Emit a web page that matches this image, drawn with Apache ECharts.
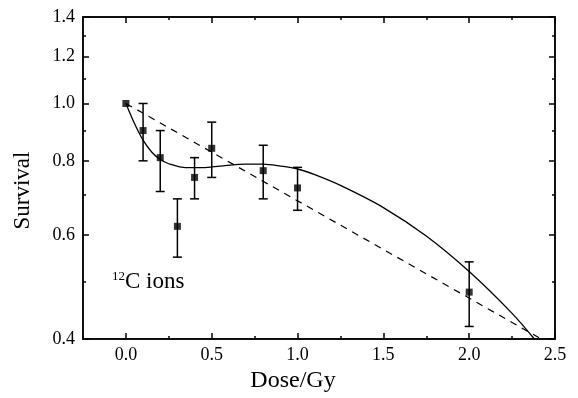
<!DOCTYPE html>
<html>
<head>
<meta charset="utf-8">
<script src="https://cdn.jsdelivr.net/npm/echarts@6/dist/echarts.min.js"></script>
<style>
  html, body { margin: 0; padding: 0; background: #fff; }
  #chart { width: 578px; height: 398px; }
</style>
</head>
<body>
<div id="chart"></div>
<script>
// measured points
const doses = [0, 0.1, 0.2, 0.3, 0.4, 0.5, 0.8, 1.0, 2.0];
const survival = [1.0, 0.90, 0.81, 0.62, 0.75, 0.84, 0.77, 0.72, 0.48];
const errLow = [null, 0.80, 0.71, 0.55, 0.69, 0.75, 0.69, 0.66, 0.42];
const errHigh = [null, 1.0, 0.90, 0.69, 0.81, 0.93, 0.85, 0.78, 0.54];

// fitted curve (solid)
const fitDose = [0, 0.05, 0.1, 0.15, 0.2, 0.25, 0.35, 0.45, 0.55, 0.7, 0.8, 0.9, 1.0, 1.1, 1.25, 1.5, 1.75, 2.0, 2.25, 2.38];
const fitSurv = [1.0, 0.925, 0.867, 0.828, 0.804, 0.791, 0.779, 0.779, 0.784, 0.79, 0.79, 0.784, 0.775, 0.758, 0.727, 0.667, 0.597, 0.52, 0.442, 0.40];

// exponential line (dashed)
const expDose = [0, 2.42];
const expSurv = [1.0, 0.40];

const yLabels = [0.4, 0.6, 0.8, 1.0, 1.2, 1.4];
const yMinor = [0.5, 0.7, 0.9, 1.1, 1.3];
const xLabels = [0, 0.5, 1.0, 1.5, 2.0, 2.5];
const xMinor = [0.25, 0.75, 1.25, 1.75, 2.25];

const font = 'Liberation Serif, Times New Roman, serif';

const chart = echarts.init(document.getElementById('chart'));

const axisLine = { show: true, onZero: false, lineStyle: { color: '#000', width: 1.5 } };
const tickStyle = { color: '#000', width: 1.5 };

function xAxisOf(pos, ticks, len, extra) {
  return Object.assign({
    type: 'value', min: -0.25, max: 2.5, position: pos,
    axisLine: axisLine,
    axisTick: { show: true, inside: true, length: len, customValues: ticks, lineStyle: tickStyle },
    axisLabel: { show: false },
    splitLine: { show: false }
  }, extra || {});
}
function yAxisOf(pos, ticks, len, extra) {
  return Object.assign({
    type: 'log', logBase: 10, min: 0.4, max: 1.4, position: pos,
    axisLine: axisLine,
    axisTick: { show: true, inside: true, length: len, customValues: ticks, lineStyle: tickStyle },
    axisLabel: { show: false },
    splitLine: { show: false },
    minorTick: { show: false }
  }, extra || {});
}

const option = {
  animation: false,
  backgroundColor: '#fff',
  grid: { left: 83, right: 23, top: 17, bottom: 58 },
  xAxis: [
    xAxisOf('bottom', xLabels, 6, {
      name: 'Dose/Gy',
      nameLocation: 'middle',
      nameGap: 30,
      nameTextStyle: { fontFamily: font, fontSize: 24, color: '#000', padding: [0, 52, 0, 0] },
      axisLabel: {
        show: true, customValues: xLabels,
        fontFamily: font, fontSize: 18, color: '#000', margin: 7,
        formatter: v => v.toFixed(1)
      }
    }),
    xAxisOf('bottom', xMinor, 3),
    xAxisOf('top', xLabels, 6),
    xAxisOf('top', xMinor, 3)
  ],
  yAxis: [
    yAxisOf('left', yLabels, 6, {
      name: 'Survival',
      nameLocation: 'middle',
      nameGap: 49,
      nameTextStyle: { fontFamily: font, fontSize: 23, color: '#000', padding: [0, 25, 0, 0] },
      axisLabel: {
        show: true, customValues: yLabels,
        fontFamily: font, fontSize: 18, color: '#000', margin: 8,
        formatter: v => Number(v).toFixed(1)
      }
    }),
    yAxisOf('left', yMinor, 3),
    yAxisOf('right', yLabels, 6),
    yAxisOf('right', yMinor, 3)
  ],
  graphic: [{
    type: 'text',
    left: 112,
    top: 270,
    style: {
      text: '{sup|12}{n|C ions}',
      rich: {
        sup: { fontFamily: font, fontSize: 13, fill: '#000', verticalAlign: 'top', padding: [0, 0, 9, 0] },
        n: { fontFamily: font, fontSize: 23, fill: '#000' }
      }
    }
  }],
  series: [
    {
      type: 'line',
      data: expDose.map((d, i) => [d, expSurv[i]]),
      symbol: 'none',
      lineStyle: { color: '#000', width: 1.2, type: [7, 6] },
      z: 2
    },
    {
      type: 'line',
      data: fitDose.map((d, i) => [d, fitSurv[i]]),
      symbol: 'none',
      smooth: 0.3,
      lineStyle: { color: '#000', width: 1.3 },
      z: 2
    },
    {
      type: 'custom',
      data: doses.map((d, i) => [d, errLow[i], errHigh[i]]).filter(r => r[1] != null),
      encode: { x: 0, y: [1, 2] },
      renderItem: function (params, api) {
        const x = api.value(0);
        const top = api.coord([x, api.value(2)]);
        const bot = api.coord([x, api.value(1)]);
        const w = 4.5;
        const st = { stroke: '#000', lineWidth: 1.5 };
        return {
          type: 'group',
          children: [
            { type: 'line', shape: { x1: top[0], y1: top[1], x2: bot[0], y2: bot[1] }, style: st },
            { type: 'line', shape: { x1: top[0] - w, y1: top[1], x2: top[0] + w, y2: top[1] }, style: st },
            { type: 'line', shape: { x1: bot[0] - w, y1: bot[1], x2: bot[0] + w, y2: bot[1] }, style: st }
          ]
        };
      },
      z: 3
    },
    {
      type: 'scatter',
      data: doses.map((d, i) => [d, survival[i]]),
      symbol: 'rect',
      symbolSize: 7,
      itemStyle: { color: '#000' },
      z: 4
    }
  ]
};

chart.setOption(option);
</script>
</body>
</html>
